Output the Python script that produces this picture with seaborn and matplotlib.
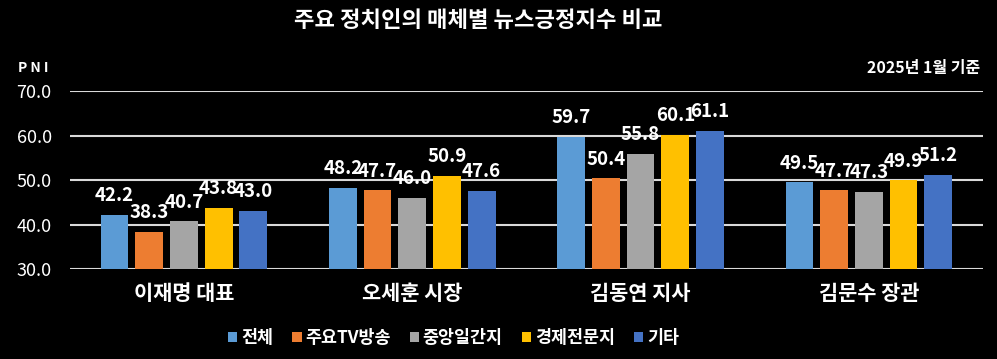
import pandas as pd
import matplotlib.pyplot as plt
import seaborn as sns

# Chart data
politicians = ["이재명 대표", "오세훈 시장", "김동연 지사", "김문수 장관"]
media = ["전체", "주요TV방송", "중앙일간지", "경제전문지", "기타"]
total = [42.2, 48.2, 59.7, 49.5]
tv = [38.3, 47.7, 50.4, 47.7]
daily = [40.7, 46.0, 55.8, 47.3]
economic = [43.8, 50.9, 60.1, 49.9]
others = [43.0, 47.6, 61.1, 51.2]
colors = ["#5B9BD5", "#ED7D31", "#A5A5A5", "#FFC000", "#4472C4"]

rows = []
for m, vals in zip(media, [total, tv, daily, economic, others]):
    for p, v in zip(politicians, vals):
        rows.append({"인물": p, "매체": m, "PNI": v})
df = pd.DataFrame(rows)

sns.set_style("dark")
plt.rcParams["font.family"] = ["Noto Sans CJK KR", "DejaVu Sans"]

fig = plt.figure(figsize=(9.97, 3.59), dpi=100, facecolor="black")
ax = fig.add_axes([0.070, 0.2507, 0.916, 0.4958])
ax.set_facecolor("black")

sns.barplot(data=df, x="인물", y="PNI", hue="매체", hue_order=media, order=politicians,
            palette=colors, saturation=1, linewidth=0, width=0.76, gap=0.2, ax=ax, legend=True)

for c in ax.containers:
    ax.bar_label(c, fmt="%.1f", color="white", fontsize=13.5, fontweight="bold", padding=7)

ax.set_ylim(30, 70)
ax.set_yticks([30, 40, 50, 60, 70])
ax.set_yticklabels([f"{t:.1f}" for t in [30, 40, 50, 60, 70]], color="white", fontsize=13)
ax.set_xticks(range(len(politicians)))
ax.set_xticklabels(politicians, color="white", fontsize=15, fontweight="bold")
ax.tick_params(axis="both", length=0)
ax.tick_params(axis="y", pad=13)
ax.tick_params(axis="x", pad=10)
ax.set_xlabel("")
ax.set_ylabel("")
ax.grid(axis="y", color="#D9D9D9", linewidth=1.5)
ax.grid(axis="x", visible=False)
ax.set_axisbelow(True)
for s in ax.spines.values():
    s.set_visible(False)

fig.text(0.48, 0.944, "주요 정치인의 매체별 뉴스긍정지수 비교", color="white", fontsize=16,
         fontweight="bold", ha="center", va="center")
fig.text(0.018, 0.81, "P N I", color="white", fontsize=10, fontweight="bold", va="center")
fig.text(0.983, 0.81, "2025년 1월 기준", color="white", fontsize=11.5, fontweight="bold",
         ha="right", va="center")

leg = ax.legend(loc="upper center", bbox_to_anchor=(0.42, -0.25), ncol=5, frameon=False,
                handlelength=0.55, handleheight=0.55, handletextpad=0.2, columnspacing=1.1,
                prop={"size": 12.5, "weight": "bold"})
for t in leg.get_texts():
    t.set_color("white")

fig.savefig("out.png", dpi=100, facecolor="black")
